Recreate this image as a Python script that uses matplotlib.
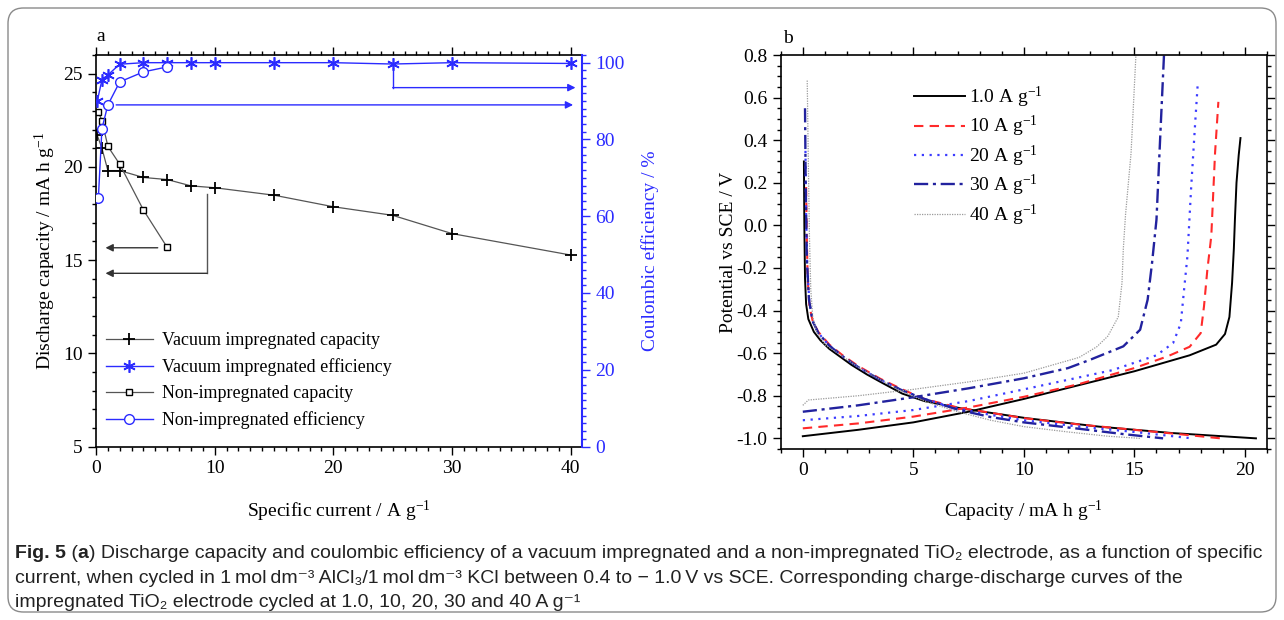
import matplotlib
matplotlib.use("Agg")
import matplotlib.pyplot as plt
from matplotlib.ticker import MultipleLocator
from matplotlib.patches import FancyBboxPatch
from matplotlib.text import Annotation

plt.rcParams['font.family'] = ['Liberation Serif', 'DejaVu Serif']
plt.rcParams['mathtext.fontset'] = 'custom'
plt.rcParams['mathtext.rm'] = 'Liberation Serif'
plt.rcParams['mathtext.it'] = 'Liberation Serif:italic'
plt.rcParams['mathtext.default'] = 'regular'

# ---------------------------------------------------------------- panel a data
# vacuum impregnated electrode
vac_current = [0.1, 0.5, 1, 2, 4, 6, 8, 10, 15, 20, 25, 30, 40]
vac_capacity = [21.7, 21.0, 19.8, 19.8, 19.43, 19.32, 18.98, 18.88, 18.48, 17.86, 17.4, 16.42, 15.27]
vac_efficiency = [89.9, 95.5, 96.8, 99.6, 100.0, 100.0, 100.0, 100.0, 100.0, 100.0, 99.65, 100.0, 99.8]

# non-impregnated electrode
non_current = [0.2, 0.5, 1, 2, 4, 6]
non_capacity = [22.95, 22.48, 21.1, 20.14, 17.68, 15.68]
non_efficiency = [64.8, 82.8, 89.0, 95.0, 97.6, 98.9]

legend_a = ['Vacuum impregnated capacity', 'Vacuum impregnated efficiency',
            'Non-impregnated capacity', 'Non-impregnated efficiency']

# ---------------------------------------------------------------- panel b data
rates = ['1.0 A g$^{-1}$', '10 A g$^{-1}$', '20 A g$^{-1}$', '30 A g$^{-1}$', '40 A g$^{-1}$']

# charge curves (capacity, potential)
ch_x_1 = [0, 2.5, 5, 7.5, 10, 12.5, 15, 17.5, 18.7, 19.1, 19.3, 19.42, 19.5, 19.55, 19.62, 19.72, 19.8]
ch_y_1 = [-0.99, -0.96, -0.925, -0.875, -0.815, -0.75, -0.685, -0.61, -0.56, -0.51, -0.43, -0.27, -0.11, 0.03, 0.2, 0.33, 0.41]
ch_x_10 = [0, 2.5, 5, 7.5, 10, 12.5, 15, 16.5, 17.5, 18.0, 18.15, 18.3, 18.48, 18.65, 18.8]
ch_y_10 = [-0.953, -0.93, -0.898, -0.855, -0.805, -0.745, -0.67, -0.615, -0.57, -0.506, -0.38, -0.21, -0.05, 0.34, 0.58]
ch_x_20 = [0, 2.5, 5, 7.5, 10, 12, 14, 16, 16.75, 17.1, 17.25, 17.4, 17.57, 17.75, 17.87]
ch_y_20 = [-0.915, -0.895, -0.867, -0.825, -0.77, -0.725, -0.68, -0.61, -0.553, -0.46, -0.30, -0.145, 0.18, 0.48, 0.67]
ch_x_30 = [0, 2.5, 5, 7.5, 10, 12, 13, 14.5, 15.26, 15.6, 15.8, 16.0, 16.17, 16.34]
ch_y_30 = [-0.875, -0.845, -0.807, -0.765, -0.718, -0.67, -0.631, -0.568, -0.49, -0.349, -0.176, 0.027, 0.417, 0.8]
ch_x_40 = [0, 0.25, 2.5, 5, 7.5, 10, 12.5, 13.3, 13.8, 14.27, 14.44, 14.5, 14.6, 14.85, 15.07]
ch_y_40 = [-0.845, -0.82, -0.80, -0.77, -0.735, -0.694, -0.62, -0.57, -0.52, -0.43, -0.27, -0.11, 0.05, 0.34, 0.8]

# discharge curves
dis_x_1 = [0.05, 0.07, 0.10, 0.15, 0.25, 0.5, 0.8, 1.2, 1.6, 2.2, 2.9, 3.6, 4.5, 5.5, 7.2, 10.1, 13.4, 16.7, 20.5]
dis_y_1 = [0.30, 0.0, -0.25, -0.37, -0.44, -0.50, -0.54, -0.58, -0.61, -0.655, -0.70, -0.74, -0.79, -0.825, -0.86, -0.905, -0.945, -0.975, -1.0]
dis_x_10 = [0.15, 0.18, 0.22, 0.3, 0.45, 0.7, 1.2, 1.8, 2.5, 3.5, 4.5, 5.5, 7, 8.5, 10, 12.5, 15, 17, 18.9]
dis_y_10 = [0.18, -0.05, -0.25, -0.38, -0.45, -0.50, -0.56, -0.61, -0.66, -0.72, -0.77, -0.815, -0.855, -0.88, -0.905, -0.935, -0.96, -0.98, -1.0]
dis_x_20 = [0.12, 0.15, 0.2, 0.3, 0.45, 0.7, 1.2, 1.8, 2.5, 3.5, 4.5, 5.5, 7, 8.5, 10, 12.5, 15, 17.6]
dis_y_20 = [0.35, 0.05, -0.2, -0.36, -0.45, -0.505, -0.565, -0.615, -0.665, -0.725, -0.775, -0.815, -0.86, -0.89, -0.915, -0.945, -0.97, -1.0]
dis_x_30 = [0.1, 0.13, 0.18, 0.28, 0.45, 0.7, 1.2, 1.8, 2.5, 3.5, 4.5, 5.5, 7, 8.5, 10, 12.5, 14.5, 16.3]
dis_y_30 = [0.55, 0.2, -0.15, -0.35, -0.45, -0.505, -0.565, -0.615, -0.665, -0.725, -0.775, -0.815, -0.865, -0.9, -0.925, -0.955, -0.98, -1.0]
dis_x_40 = [0.2, 0.25, 0.3, 0.36, 0.45, 0.62, 1.0, 1.8, 2.5, 3.5, 4.5, 5.5, 7, 8.5, 10, 12, 13.8, 15.25]
dis_y_40 = [0.68, 0.3, -0.05, -0.3, -0.43, -0.5, -0.56, -0.615, -0.665, -0.725, -0.78, -0.825, -0.875, -0.915, -0.945, -0.97, -0.99, -1.0]

BLUE = '#2b2bff'
GREY_LINE = '#555555'

fig = plt.figure(figsize=(12.84, 6.2), dpi=100)

# ============================================================ panel a
ax1 = fig.add_axes([96 / 1284, 1 - 446.5 / 620, 486 / 1284, 391.5 / 620])
ax2 = ax1.twinx()

h1, = ax1.plot(vac_current, vac_capacity, color=GREY_LINE, lw=0.9, marker='+',
               ms=9, mew=1.3, mec='black')
h3, = ax1.plot(non_current, non_capacity, color=GREY_LINE, lw=0.9, marker='s',
               ms=5, mew=1.0, mec='black', mfc='white')
h2, = ax2.plot(vac_current, vac_efficiency, color=BLUE, lw=1.0, marker=(6, 2, 0),
               ms=9, mew=1.2, mec=BLUE)
h4, = ax2.plot(non_current, non_efficiency, color=BLUE, lw=1.0, marker='o',
               ms=7, mew=1.0, mec=BLUE, mfc='white')

ax1.set_xlim(0, 40.95)
ax1.set_ylim(5, 26)
ax2.set_ylim(0, 102)

# arrows pointing to the axis each series belongs to
arrow_kw = dict(arrowstyle='-|>', mutation_scale=11, shrinkA=0, shrinkB=0)
ax2.plot([25, 25], [98.6, 93.5], color=BLUE, lw=1.0)
ax2.annotate('', xy=(40.4, 93.5), xytext=(25, 93.5),
             arrowprops=dict(color=BLUE, lw=1.0, **arrow_kw))
ax2.annotate('', xy=(40.2, 89.0), xytext=(1.7, 89.0),
             arrowprops=dict(color=BLUE, lw=1.0, **arrow_kw))
ax1.annotate('', xy=(0.8, 15.66), xytext=(5.2, 15.66),
             arrowprops=dict(color='#333333', lw=1.0, **arrow_kw))
ax1.plot([9.36, 9.36], [18.55, 14.29], color=GREY_LINE, lw=1.0)
ax1.annotate('', xy=(0.8, 14.29), xytext=(9.36, 14.29),
             arrowprops=dict(color='#333333', lw=1.0, **arrow_kw))

ax1.xaxis.set_major_locator(MultipleLocator(10))
ax1.xaxis.set_minor_locator(MultipleLocator(1))
ax1.yaxis.set_major_locator(MultipleLocator(5))
ax1.yaxis.set_minor_locator(MultipleLocator(1))
ax2.yaxis.set_major_locator(MultipleLocator(20))
ax2.yaxis.set_minor_locator(MultipleLocator(2))

ax1.tick_params(which='both', direction='out', top=True, right=False, labelsize=14, width=1.0)
ax1.tick_params(which='major', length=6)
ax1.tick_params(which='minor', length=3)
ax2.tick_params(which='both', direction='out', colors=BLUE, labelsize=14, width=1.0)
ax2.tick_params(which='major', length=6)
ax2.tick_params(which='minor', length=3)
ax2.spines['right'].set_color(BLUE)
ax2.spines['right'].set_linewidth(1.5)
for s in ['left', 'top', 'bottom']:
    ax2.spines[s].set_visible(False)
for s in ax1.spines.values():
    s.set_linewidth(1.2)
ax1.spines['right'].set_visible(False)

ax1.set_xlabel('Specific current / A g$^{-1}$', fontsize=14, labelpad=16)
ax1.set_ylabel('Discharge capacity / mA h g$^{-1}$', fontsize=14, labelpad=4)
ax2.set_ylabel('Coulombic efficiency / %', fontsize=14, color=BLUE, labelpad=12)

ax1.legend([h1, h2, h3, h4], legend_a, loc='lower left', bbox_to_anchor=(0.02, 0.045),
           frameon=False, fontsize=13, handlelength=2.6, handletextpad=0.5,
           labelspacing=0.5, borderpad=0, borderaxespad=0)
ax1.text(0.0, 1.025, 'a', transform=ax1.transAxes, fontsize=14, ha='left', va='bottom')

# ============================================================ panel b
ax3 = fig.add_axes([780.7 / 1284, 1 - 449 / 620, 486.3 / 1284, 394 / 620])

styles = [
    dict(color='black', lw=1.4, ls='-'),
    dict(color='#ff2a2a', lw=1.5, ls=(0, (4.5, 3))),
    dict(color='#3c3cff', lw=1.6, ls=(0, (1, 2.5))),
    dict(color='#22229e', lw=1.7, ls=(0, (6, 2, 1.3, 2))),
    dict(color='#9a9a9a', lw=0.9, ls=(0, (1, 1))),
]
charge = [(ch_x_1, ch_y_1), (ch_x_10, ch_y_10), (ch_x_20, ch_y_20), (ch_x_30, ch_y_30), (ch_x_40, ch_y_40)]
discharge = [(dis_x_1, dis_y_1), (dis_x_10, dis_y_10), (dis_x_20, dis_y_20), (dis_x_30, dis_y_30), (dis_x_40, dis_y_40)]

handles_b = []
for (cx, cy), (dx, dy), st, lab in zip(charge, discharge, styles, rates):
    h, = ax3.plot(cx, cy, label=lab, **st)
    ax3.plot(dx, dy, **st)
    handles_b.append(h)

ax3.set_xlim(-1, 21)
ax3.set_ylim(-1.05, 0.8)
ax3.xaxis.set_major_locator(MultipleLocator(5))
ax3.xaxis.set_minor_locator(MultipleLocator(1))
ax3.yaxis.set_minor_locator(MultipleLocator(0.05))
ax3.set_yticks([-1.0, -0.8, -0.6, -0.4, -0.2, 0.0, 0.2, 0.4, 0.6, 0.8])
ax3.set_yticklabels(['-1.0', '-0.8', '-0.6', '-0.4', '-0.2', '0.0', '0.2', '0.4', '0.6', '0.8'])
ax3.tick_params(which='both', direction='out', top=True, right=True, labelsize=14, width=1.0)
ax3.tick_params(which='major', length=6)
ax3.tick_params(which='minor', length=3)
for s in ax3.spines.values():
    s.set_linewidth(1.2)
ax3.set_xlabel('Capacity / mA h g$^{-1}$', fontsize=14, labelpad=14)
ax3.set_ylabel('Potential vs SCE / V', fontsize=14, labelpad=0)
ax3.legend(handles=handles_b, loc='upper left', bbox_to_anchor=(0.274, 0.925),
           frameon=False, fontsize=14, handlelength=2.6, handletextpad=0.25,
           labelspacing=0.22, borderpad=0, borderaxespad=0)
ax3.text(0.005, 1.02, 'b', transform=ax3.transAxes, fontsize=14, ha='left', va='bottom')

# ============================================================ caption
frame = FancyBboxPatch((8 / 1284, 8 / 620), 1268 / 1284, 604 / 620,
                       boxstyle='round,pad=0,rounding_size=0.012',
                       transform=fig.transFigure, fill=False,
                       edgecolor='#8a8a8a', lw=1.0, mutation_aspect=1284 / 620)
fig.patches.append(frame)

cap_font = ['Liberation Sans', 'DejaVu Sans']
cap_size = 14.0
cap_color = '#222222'


def caption_line(pieces, x, y_bottom):
    """Writes pieces (text, bold) one after the other on a line."""
    prev = None
    for txt, bold in pieces:
        kw = dict(fontsize=cap_size, family=cap_font, color=cap_color,
                  fontweight='bold' if bold else 'normal', va='bottom', ha='left')
        if prev is None:
            prev = fig.text(x, y_bottom, txt, **kw)
        else:
            prev = fig.add_artist(Annotation(txt, xy=(1, 0), xycoords=prev,
                                             xytext=(0, 0), textcoords='offset points',
                                             annotation_clip=False, **kw))
    return prev


line1 = [('Fig. 5', True), (' (', False), ('a', True),
         (') Discharge capacity and coulombic efficiency of a vacuum impregnated and a '
          'non-impregnated TiO\u2082 electrode, as a function of specific', False)]
line2 = [('current, when cycled in 1\u2009mol\u2009dm\u207b\u00b3 AlCl\u2083/1\u2009mol\u2009dm\u207b\u00b3 '
          'KCl between 0.4 to \u2212 1.0\u2009V vs SCE. Corresponding charge-discharge curves of the', False)]
line3 = [('impregnated TiO\u2082 electrode cycled at 1.0, 10, 20, 30 and 40 A g\u207b\u00b9', False)]

caption_line(line1, 15 / 1284, 1 - 562 / 620)
caption_line(line2, 15 / 1284, 1 - 587 / 620)
caption_line(line3, 15 / 1284, 1 - 611 / 620)

fig.savefig('out.png', dpi=100)
